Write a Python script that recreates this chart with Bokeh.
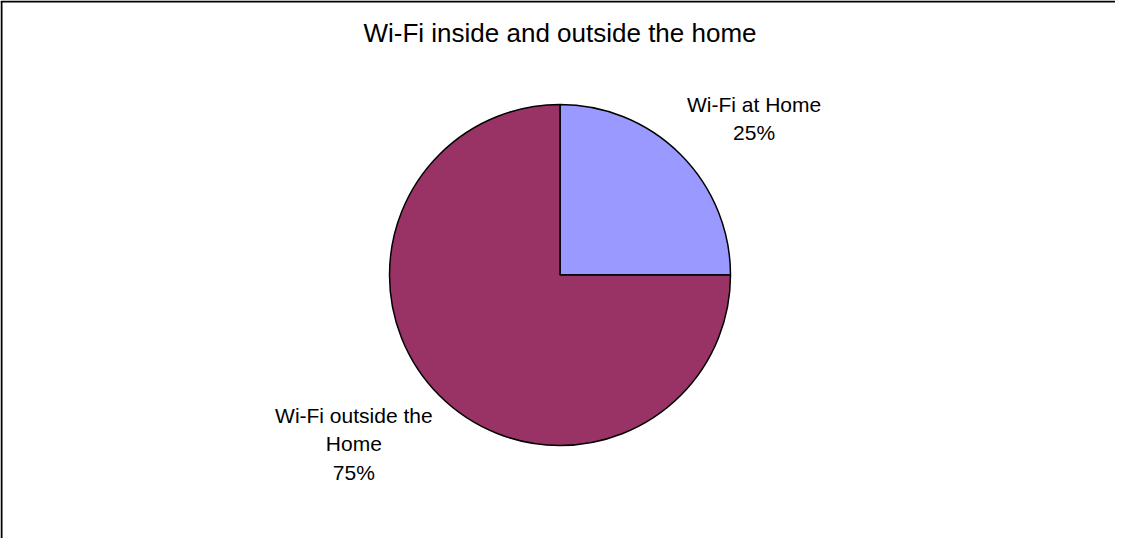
import math
from bokeh.plotting import figure
from bokeh.models import ColumnDataSource
from bokeh.core.properties import value
from bokeh.embed import file_html
from bokeh.resources import INLINE

# ---- data ----
title_text = "Wi-Fi inside and outside the home"
categories = ["Wi-Fi at Home", "Wi-Fi outside the\nHome"]
values = [25, 75]
colors = ["#9999FF", "#993366"]

# ---- layout ----
W, H = 1115, 538
cx, cy, r = 559.5, 263.5, 170.5
FONT = "Liberation Sans"
# label placement (horizontal / vertical distance factors relative to radius)
label_fx = [1.61, 1.71]
label_fy = [1.30, 1.40]

total = float(sum(values))
starts, ends, mids = [], [], []
acc = 0.0
for v in values:
    a0 = 2 * math.pi * acc / total
    acc += v
    a1 = 2 * math.pi * acc / total
    starts.append(a0)
    ends.append(a1)
    mids.append((a0 + a1) / 2)

labels = [f"{c}\n{round(100 * v / total):d}%" for c, v in zip(categories, values)]
lx = [cx + fx * r * math.cos(m) / math.cos(math.pi / 4) * 0.7071
      for m, fx in zip(mids, label_fx)]
ly = [cy + fy * r * math.sin(m) for m, fy in zip(mids, label_fy)]

src = ColumnDataSource(dict(start=starts, end=ends, color=colors,
                            label=labels, lx=lx, ly=ly))

p = figure(width=W, height=H, x_range=(0, W), y_range=(0, H),
           output_backend="svg", toolbar_location=None, min_border=0,
           match_aspect=False)
p.axis.visible = False
p.grid.visible = False
p.outline_line_color = None
p.background_fill_color = "white"
p.border_fill_color = "white"

# chart frame (top and left edges visible in the reference)
p.segment(x0=[0, 1], y0=[H - 1, 0], x1=[W, 1], y1=[H - 1, H - 1],
          line_color="black", line_width=2)

p.wedge(x=cx, y=cy, radius=r, start_angle="start", end_angle="end",
        direction="anticlock", fill_color="color", line_color="black",
        line_width=1.5, source=src)

p.text(x="lx", y="ly", text="label", source=src, text_align="center",
       text_baseline="middle", text_font=value(FONT), text_font_size="21px",
       text_line_height=1.23, text_color="black")

p.text(x=[cx], y=[H - 32], text=[title_text], text_align="center",
       text_baseline="middle", text_font=value(FONT), text_font_size="26px",
       text_color="black")

open("out.html", "w").write(file_html(p, INLINE))
